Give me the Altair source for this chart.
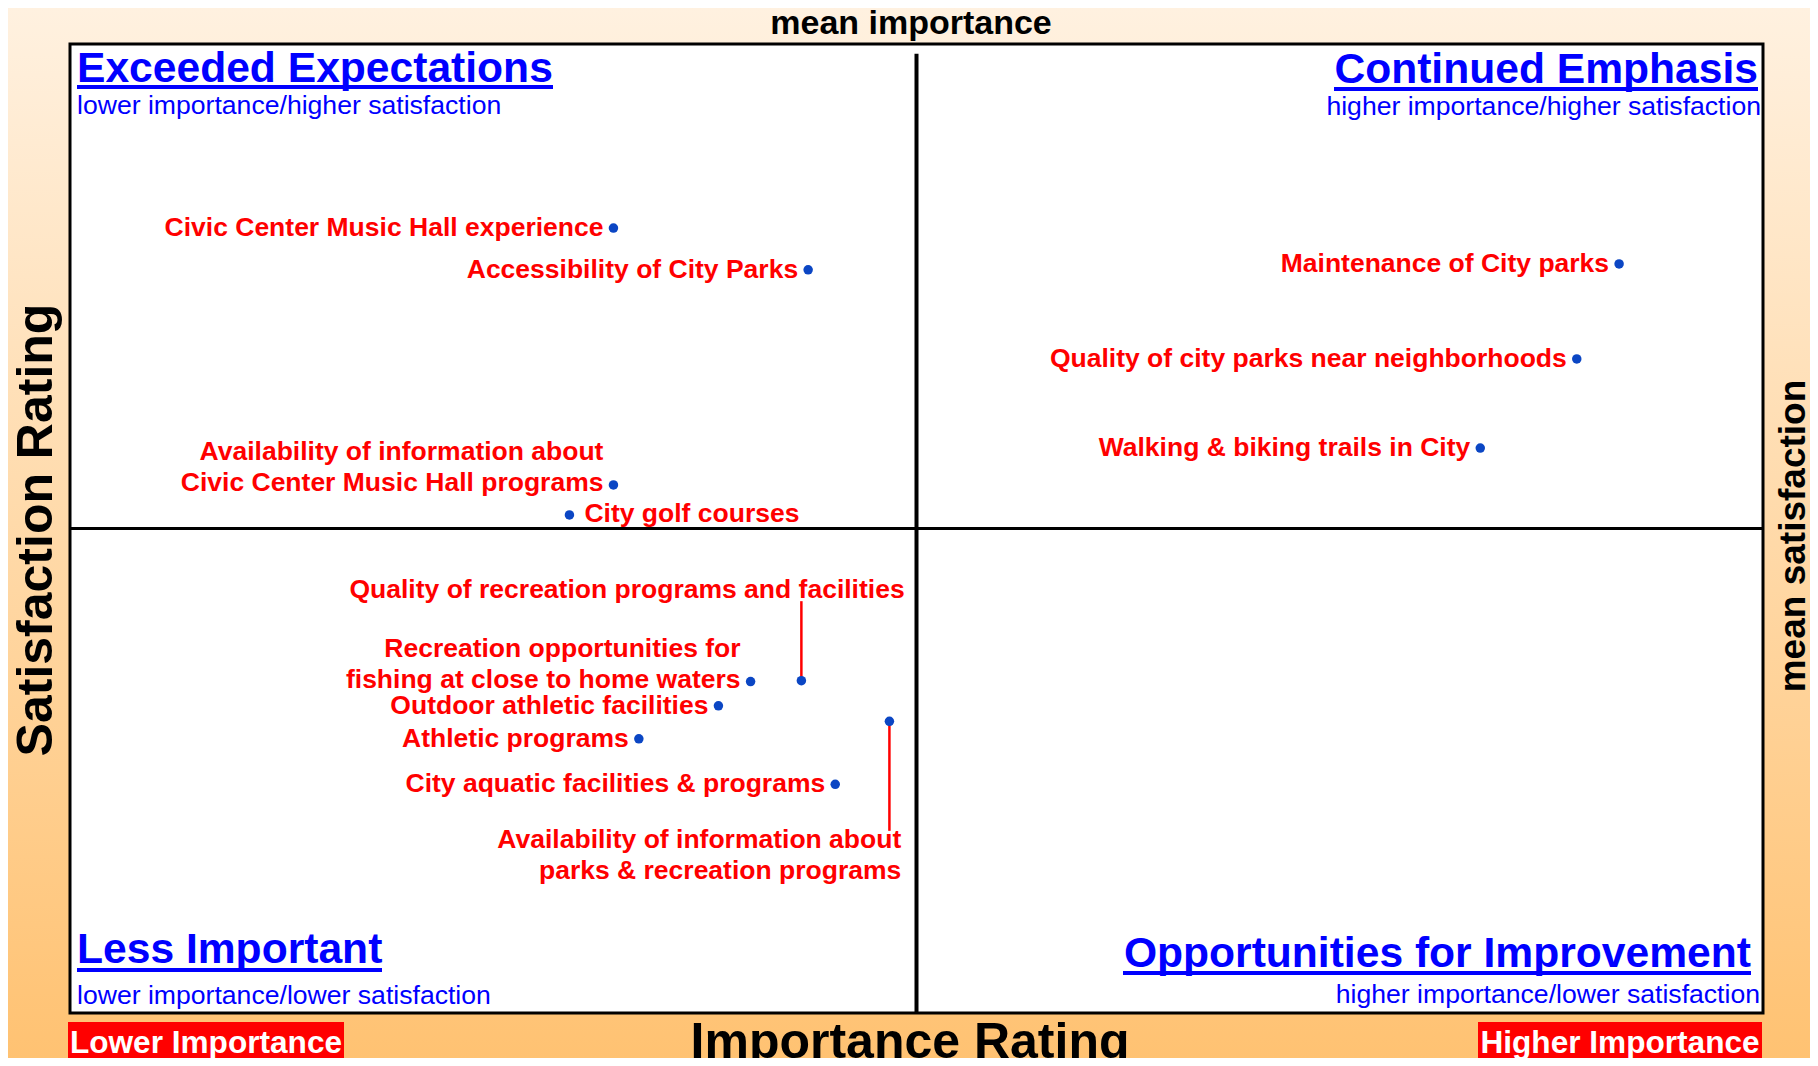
import altair as alt
import pandas as pd

# ---------------- data ----------------
items = [
    "Civic Center Music Hall experience",
    "Accessibility of City Parks",
    "Maintenance of City parks",
    "Quality of city parks near neighborhoods",
    "Walking & biking trails in City",
    "Availability of information about\nCivic Center Music Hall programs",
    "City golf courses",
    "Quality of recreation programs and facilities",
    "Recreation opportunities for\nfishing at close to home waters",
    "Outdoor athletic facilities",
    "Athletic programs",
    "City aquatic facilities & programs",
    "Availability of information about\nparks & recreation programs",
]
importance = [32.1, 43.6, 91.5, 89.0, 83.3, 32.1, 29.5, 43.2, 40.2, 38.3, 33.6, 45.2, 48.4]
satisfaction = [81.0, 76.7, 77.3, 67.5, 58.3, 54.5, 51.4, 34.3, 34.2, 31.7, 28.3, 23.6, 30.1]
placement = ["left", "left", "left", "left", "left", "left", "right",
             "callout", "left", "left", "left", "left", "callout"]

# callout label anchors (data units, first text line) and leader-line end
callout_items = ["Quality of recreation programs and facilities",
                 "Availability of information about\nparks & recreation programs"]
callout_label_x = [49.3, 49.1]
callout_label_y = [42.8, 17.0]
callout_line_end_y = [42.5, 18.8]

mean_importance = 50.0
mean_satisfaction = 50.0

# ---------------- layout ----------------
W, H = 1693, 969
PAD = {"left": 62, "top": 36, "right": 47, "bottom": 45}
FONT = "Liberation Sans"
RED = "#FF0000"
BLUE = "#0000FF"
DOT = "#0B46C4"

df = pd.DataFrame({"item": items, "importance": importance,
                   "satisfaction": satisfaction, "placement": placement})
df["multi"] = df["item"].str.contains("\n")
co = pd.DataFrame({"item": callout_items, "lx": callout_label_x, "ly": callout_label_y,
                   "ye": callout_line_end_y})
co["px"] = [importance[items.index(i)] for i in callout_items]
co["py"] = [satisfaction[items.index(i)] for i in callout_items]

xs = alt.Scale(domain=[0, 100], nice=False, zero=False)
ys = alt.Scale(domain=[0, 100], nice=False, zero=False)

one = alt.Data(values=[{"t": 0}])

bg = alt.Chart(one).mark_rect(
    color=alt.Gradient(gradient="linear",
                       stops=[alt.GradientStop(color="#FFF1E0", offset=0),
                              alt.GradientStop(color="#FFC272", offset=1)],
                       x1=0, x2=0, y1=0, y2=1)
).encode(x=alt.value(-PAD["left"]), x2=alt.value(W + PAD["right"]),
         y=alt.value(-PAD["top"]), y2=alt.value(H + PAD["bottom"]))

frame = alt.Chart(one).mark_rect(fill="white", stroke="black", strokeWidth=3).encode(
    x=alt.value(0), x2=alt.value(W), y=alt.value(0), y2=alt.value(H))

means = pd.DataFrame({"mi": [mean_importance], "ms": [mean_satisfaction], "top": [99.0], "bot": [0.0]})
vline = alt.Chart(means).mark_rule(color="black", strokeWidth=4).encode(
    x=alt.X("mi:Q", scale=xs, axis=None),
    y=alt.Y("bot:Q", scale=ys, axis=None), y2="top:Q")
hline = alt.Chart(means).mark_rule(color="black", strokeWidth=3).encode(
    y=alt.Y("ms:Q", scale=ys, axis=None))

leaders = alt.Chart(co).mark_rule(color=RED, strokeWidth=2.5).encode(
    x=alt.X("px:Q", scale=xs, axis=None),
    y=alt.Y("py:Q", scale=ys, axis=None), y2="ye:Q")

dots = alt.Chart(df).mark_circle(size=90, color=DOT, opacity=1).encode(
    x=alt.X("importance:Q", scale=xs, axis=None),
    y=alt.Y("satisfaction:Q", scale=ys, axis=None))

lbl_kw = dict(font=FONT, fontWeight="bold", fontSize=26.5, color=RED, lineBreak="\n",
              lineHeight=31, baseline="alphabetic")
enc = dict(x=alt.X("importance:Q", scale=xs, axis=None),
           y=alt.Y("satisfaction:Q", scale=ys, axis=None), text="item:N")
left_single = alt.Chart(df).transform_filter(
    (alt.datum.placement == "left") & (~alt.datum.multi)).mark_text(
    align="right", dx=-10, dy=8, **lbl_kw).encode(**enc)
left_multi = alt.Chart(df).transform_filter(
    (alt.datum.placement == "left") & (alt.datum.multi)).mark_text(
    align="right", dx=-10, dy=6 - 31, **lbl_kw).encode(**enc)
right_lbl = alt.Chart(df).transform_filter(alt.datum.placement == "right").mark_text(
    align="left", dx=15, dy=7, **lbl_kw).encode(**enc)
call_lbl = alt.Chart(co).mark_text(align="right", **lbl_kw).encode(
    x=alt.X("lx:Q", scale=xs, axis=None),
    y=alt.Y("ly:Q", scale=ys, axis=None), text="item:N")


def txt(s, x, y, size, color="black", bold=True, align="left", angle=0):
    kw = dict(font=FONT, fontSize=size, color=color, align=align, baseline="alphabetic",
              fontWeight="bold" if bold else "normal")
    if angle:
        kw["angle"] = angle
    return alt.Chart(alt.Data(values=[{"t": s}])).mark_text(**kw).encode(
        text="t:N", x=alt.value(x), y=alt.value(y))


def uline(x1, x2, y, w=4, color=BLUE):
    return alt.Chart(one).mark_rule(color=color, strokeWidth=w).encode(
        x=alt.value(x1), x2=alt.value(x2), y=alt.value(y))


def box(x1, x2, y1, y2, color=RED):
    return alt.Chart(one).mark_rect(color=color).encode(
        x=alt.value(x1), x2=alt.value(x2), y=alt.value(y1), y2=alt.value(y2))


quads = [
    txt("Exceeded Expectations", 7, 38, 42.6, BLUE),
    uline(7, 483, 43),
    txt("lower importance/higher satisfaction", 7, 70, 26.6, BLUE, bold=False),
    txt("Continued Emphasis", 1688, 39, 42.6, BLUE, align="right"),
    uline(1264, 1688, 45),
    txt("higher importance/higher satisfaction", 1691, 71, 26.6, BLUE, bold=False, align="right"),
    txt("Less Important", 7, 919, 42.6, BLUE),
    uline(7, 312, 926),
    txt("lower importance/lower satisfaction", 7, 960, 26.6, BLUE, bold=False),
    txt("Opportunities for Improvement", 1681, 923, 42.6, BLUE, align="right"),
    uline(1053, 1681, 929),
    txt("higher importance/lower satisfaction", 1690, 959, 26.6, BLUE, bold=False, align="right"),
]

titles = [
    txt("mean importance", 841, -10, 34, align="center"),
    txt("Importance Rating", 840, 1014, 50, align="center"),
    txt("Satisfaction Rating", -18, 486, 50, align="center", angle=270),
    txt("mean satisfaction", 1735, 492, 37, align="center", angle=270),
    box(-2, 274, 978, 1016),
    txt("Lower Importance", 136, 1009, 31.6, "white", align="center"),
    box(1408, 1692, 978, 1016),
    txt("Higher Importance", 1550, 1009, 31.6, "white", align="center"),
]

chart = alt.layer(bg, frame, hline, vline, leaders, dots, left_single, left_multi, right_lbl,
                  call_lbl, *quads, *titles).properties(
    width=W, height=H,
    padding=PAD,
    autosize=alt.AutoSizeParams(type="none"),
).configure_view(strokeOpacity=0)

chart.save("out.html", embed_options={"renderer": "svg", "actions": False})
